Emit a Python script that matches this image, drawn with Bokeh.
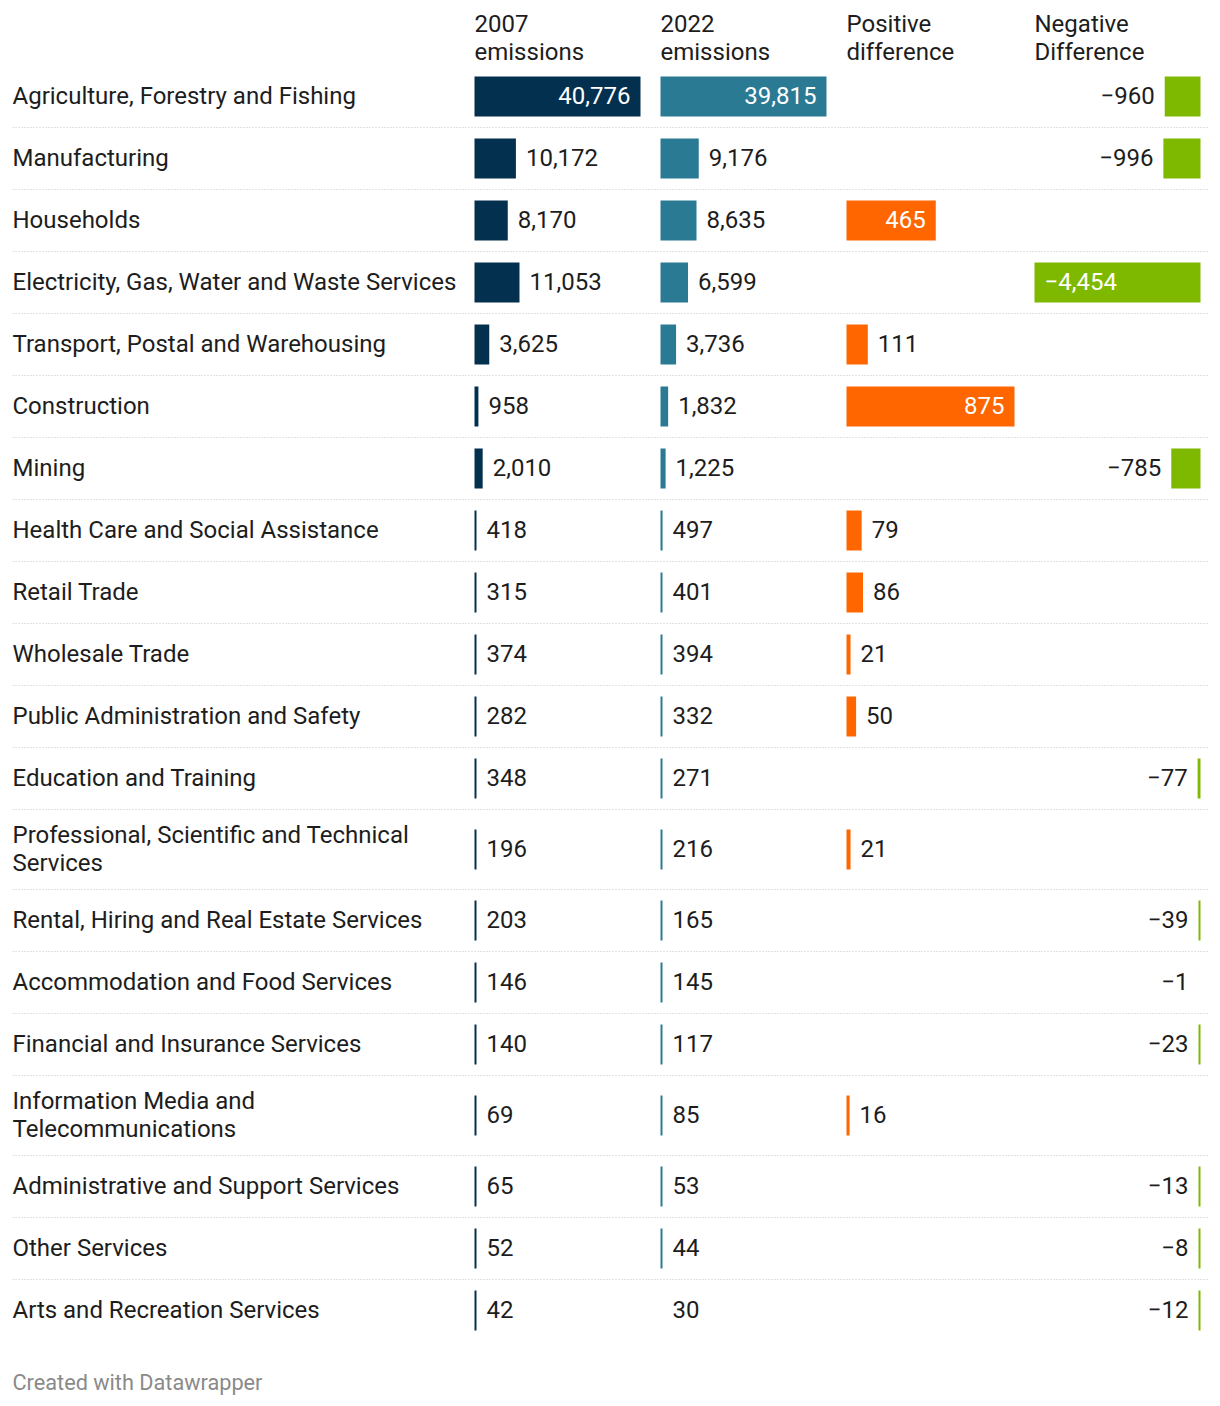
from bokeh.plotting import figure
from bokeh.models import Range1d
from bokeh.core.properties import value
from bokeh.embed import file_html
from bokeh.resources import INLINE

# ---------------- data ----------------
sectors = [
    "Agriculture, Forestry and Fishing",
    "Manufacturing",
    "Households",
    "Electricity, Gas, Water and Waste Services",
    "Transport, Postal and Warehousing",
    "Construction",
    "Mining",
    "Health Care and Social Assistance",
    "Retail Trade",
    "Wholesale Trade",
    "Public Administration and Safety",
    "Education and Training",
    "Professional, Scientific and Technical\nServices",
    "Rental, Hiring and Real Estate Services",
    "Accommodation and Food Services",
    "Financial and Insurance Services",
    "Information Media and\nTelecommunications",
    "Administrative and Support Services",
    "Other Services",
    "Arts and Recreation Services",
]
emissions_2007 = [40776, 10172, 8170, 11053, 3625, 958, 2010, 418, 315, 374,
                  282, 348, 196, 203, 146, 140, 69, 65, 52, 42]
emissions_2022 = [39815, 9176, 8635, 6599, 3736, 1832, 1225, 497, 401, 394,
                  332, 271, 216, 165, 145, 117, 85, 53, 44, 30]
positive_diff = [None, None, 465, None, 111, 875, None, 79, 86, 21,
                 50, None, 21, None, None, None, 16, None, None, None]
negative_diff = [-960, -996, None, -4454, None, None, -785, None, None, None,
                 None, -77, None, -39, -1, -23, None, -13, -8, -12]
headers = ["2007\nemissions", "2022\nemissions", "Positive\ndifference", "Negative\nDifference"]

# ---------------- style ----------------
FONT = "Roboto"
FS = 24
FSpx = f"{FS}px"
C2007 = "#04304f"
C2022 = "#2b7a94"
CPOS = "#ff6600"
CNEG = "#7eb900"
TXT = "#1d1d1d"
W, H = 1220, 1406

LEFT = 12
COL_X = [474, 660, 846, 1034]
COL_W = 166
BAR_H = 40
TOP = 65
ROW_H1 = 62
ROW_H2 = 80
LINE_H = 28
DY = -1  # text optical offset

p = figure(width=W, height=H, output_backend="svg", toolbar_location=None,
           x_range=Range1d(0, W), y_range=Range1d(H, 0), min_border=0)
p.axis.visible = False
p.grid.visible = False
p.outline_line_color = None
p.background_fill_color = "white"

# row layout
centers, bottoms = [], []
y = TOP
for s in sectors:
    h = ROW_H2 if "\n" in s else ROW_H1
    centers.append(y + h / 2)
    y += h
    bottoms.append(y)

def fmt(v):
    s = f"{abs(v):,}"
    return ("\u2212" + s) if v < 0 else s

def est_w(s):
    w = 0
    for ch in s:
        w += 0.2 if ch == "," else 0.57
    return w * FS

def txt(xs, ys, ts, color=TXT, align="left", size=FSpx):
    p.text(x=xs, y=[v + DY for v in ys], text=ts, text_font=value(FONT), text_font_size=size,
           text_color=color, text_baseline="middle", text_align=align)

# header
hx, hy, ht = [], [], []
for x0, hd in zip(COL_X, headers):
    for i, ln in enumerate(hd.split("\n")):
        hx.append(x0); hy.append(24 + i * LINE_H); ht.append(ln)
txt(hx, hy, ht)

# row labels
lx, ly, lt = [], [], []
for s, c in zip(sectors, centers):
    lines = s.split("\n")
    n = len(lines)
    for i, ln in enumerate(lines):
        lx.append(LEFT)
        ly.append(c + (i - (n - 1) / 2) * LINE_H)
        lt.append(ln)
txt(lx, ly, lt)

# separators
for b in bottoms[:-1]:
    p.line([LEFT, 1208], [b, b], line_color="#c4c4c4", line_width=1, line_dash="1 2")

def bars(vals, anchor, maxv, color, negative=False):
    L, R, T, B = [], [], [], []
    tin = ([], [], [])
    tout = ([], [], [])
    for v, c in zip(vals, centers):
        if v is None:
            continue
        w = abs(v) / maxv * COL_W
        wd = max(w, 2)
        if w >= 0.15:
            if negative:
                L.append(anchor - wd); R.append(anchor)
            else:
                L.append(anchor); R.append(anchor + wd)
            T.append(c - BAR_H / 2); B.append(c + BAR_H / 2)
        s = fmt(v)
        sgn = -1 if negative else 1
        if w >= est_w(s) + 20:
            tin[0].append(anchor + sgn * (w - 10)); tin[1].append(c); tin[2].append(s)
        else:
            tout[0].append(anchor + sgn * (wd + 10)); tout[1].append(c); tout[2].append(s)
    p.quad(left=L, right=R, top=T, bottom=B, fill_color=color, line_color=None)
    txt(*tin, color="white", align="left" if negative else "right")
    txt(*tout, color=TXT, align="right" if negative else "left")

bars(emissions_2007, COL_X[0], max(emissions_2007), C2007)
bars(emissions_2022, COL_X[1], max(emissions_2022), C2022)
pv = [v for v in positive_diff if v is not None]
bars(positive_diff, COL_X[2], max(pv) * COL_W / 168, CPOS)
nv = [abs(v) for v in negative_diff if v is not None]
bars(negative_diff, COL_X[3] + COL_W, max(nv), CNEG, negative=True)

# footer
txt([LEFT], [1383], ["Created with Datawrapper"], color="#8a8a8a", size="21.7px")

open("out.html", "w").write(file_html(p, INLINE))
